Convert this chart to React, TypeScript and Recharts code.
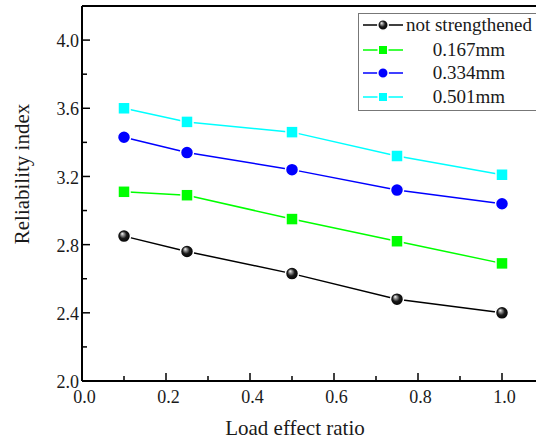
import React from 'react';
import { LineChart, Line, XAxis, YAxis, Legend, ReferenceLine } from 'recharts';

const loadRatio = [0.1, 0.25, 0.5, 0.75, 1.0];
const notStrengthened = [2.85, 2.76, 2.63, 2.48, 2.4];
const mm0167 = [3.11, 3.09, 2.95, 2.82, 2.69];
const mm0334 = [3.43, 3.34, 3.24, 3.12, 3.04];
const mm0501 = [3.6, 3.52, 3.46, 3.32, 3.21];

const seriesNames = ['not strengthened', '0.167mm', '0.334mm', '0.501mm'];
const seriesKeys = ['s0', 's1', 's2', 's3'];
const seriesColors = ['#000000', '#00ff00', '#0000ff', '#00ffff'];
const seriesShapes = ['sphere', 'square', 'circle', 'square'];

const xTicks = [0, 0.1, 0.2, 0.3, 0.4, 0.5, 0.6, 0.7, 0.8, 0.9, 1.0];
const yTicks = [2.0, 2.2, 2.4, 2.6, 2.8, 3.0, 3.2, 3.4, 3.6, 3.8, 4.0];

const xTitle = 'Load effect ratio';
const yTitle = 'Reliability index';

const data = loadRatio.map((x, i) => ({
  x,
  s0: notStrengthened[i],
  s1: mm0167[i],
  s2: mm0334[i],
  s3: mm0501[i],
}));

const FONT = '"Liberation Serif", "Times New Roman", serif';
const TEXT = '#1a1a1a';
const Y_MARGIN = 3;
const X_MARGIN = 9;

const tickStyle = { fontFamily: FONT, fontSize: 18 };
const titleStyle = { fontFamily: FONT, fontSize: 21 };

const YTick = (props: any) => {
  const { x, y, index, payload } = props;
  const axisX = x + Y_MARGIN;
  const major = index % 2 === 0;
  return (
    <g>
      <line x1={axisX} x2={axisX + (major ? 8 : 5)} y1={y} y2={y} stroke="#000" strokeWidth={1.5} />
      {major && (
        <text x={x} y={y} dy="0.4em" textAnchor="end" style={tickStyle} fill={TEXT}>
          {Number(payload.value).toFixed(1)}
        </text>
      )}
    </g>
  );
};

const XTick = (props: any) => {
  const { x, y, index, payload } = props;
  const axisY = y - X_MARGIN;
  const major = index % 2 === 0;
  return (
    <g>
      <line x1={x} x2={x} y1={axisY} y2={axisY - (major ? 8 : 5)} stroke="#000" strokeWidth={1.5} />
      {major && (
        <text x={x + 2.5} y={y} dy="0.71em" textAnchor="middle" style={tickStyle} fill={TEXT}>
          {Number(payload.value).toFixed(1)}
        </text>
      )}
    </g>
  );
};

const Marker = ({ shape, color, cx, cy, size }: any) => {
  if (shape === 'sphere') {
    return (
      <g>
        <defs>
          <radialGradient id="sphereGrad" cx="50%" cy="50%" r="50%" fx="35%" fy="30%">
            <stop offset="0%" stopColor="#ffffff" />
            <stop offset="22%" stopColor="#9a9a9a" />
            <stop offset="55%" stopColor="#1a1a1a" />
            <stop offset="100%" stopColor="#000000" />
          </radialGradient>
        </defs>
        <circle cx={cx} cy={cy} r={size / 2} fill="url(#sphereGrad)" stroke="#ffffff" strokeWidth={1.5} />
      </g>
    );
  }
  if (shape === 'circle') {
    return <circle cx={cx} cy={cy} r={size / 2} fill={color} stroke="#ffffff" strokeWidth={1.5} />;
  }
  const s = size - 1;
  return <rect x={cx - s / 2} y={cy - s / 2} width={s} height={s} fill={color} stroke="#ffffff" strokeWidth={1.5} />;
};

const makeDot = (i: number) => (p: any) => (
  <Marker key={`d${i}-${p.index}`} shape={seriesShapes[i]} color={seriesColors[i]} cx={p.cx} cy={p.cy} size={13} />
);

const LegendBox = () => {
  const rows = [12, 37, 60, 84];
  return (
    <svg width={200} height={98} style={{ display: 'block' }}>
      <rect x={0.5} y={0.5} width={199} height={97} fill="#fff" stroke="#777" strokeWidth={1} />
      {seriesNames.map((name, i) => (
        <g key={name}>
          <line x1={5} x2={45} y1={rows[i]} y2={rows[i]} stroke={seriesColors[i]} strokeWidth={1.5} />
          <Marker shape={seriesShapes[i]} color={seriesColors[i]} cx={25} cy={rows[i]} size={10.5} />
          <text x={111} y={rows[i]} dy="0.33em" textAnchor="middle" style={{ fontFamily: FONT, fontSize: 19 }} fill={TEXT}>
            {name}
          </text>
        </g>
      ))}
    </svg>
  );
};

export default function App() {
  return (
    <div style={{ position: 'absolute', left: 0, top: 0, width: 536, height: 441, overflow: 'hidden', background: '#fff' }}>
      <LineChart width={560} height={441} data={data} margin={{ top: 6, right: 16, bottom: 0, left: 0 }}>
        <XAxis
          dataKey="x"
          type="number"
          domain={[0, 1.1]}
          ticks={xTicks}
          interval={0}
          allowDataOverflow
          height={60}
          stroke="#000"
          axisLine={{ stroke: '#000', strokeWidth: 2 }}
          tickLine={false}
          tickSize={0}
          tickMargin={X_MARGIN}
          tick={<XTick />}
          label={() => (
            <text x={295} y={435} textAnchor="middle" style={titleStyle} fill={TEXT}>
              {xTitle}
            </text>
          )}
        />
        <YAxis
          type="number"
          domain={[2.0, 4.2]}
          ticks={yTicks}
          interval={0}
          allowDataOverflow
          width={82}
          axisLine={{ stroke: '#000', strokeWidth: 2 }}
          tickLine={false}
          tickSize={0}
          tickMargin={Y_MARGIN}
          tick={<YTick />}
          label={() => (
            <text x={29} y={174} transform="rotate(-90, 29, 174)" textAnchor="middle" style={titleStyle} fill={TEXT}>
              {yTitle}
            </text>
          )}
        />
        <ReferenceLine y={4.2} stroke="#000" strokeWidth={2} ifOverflow="visible" />
        {seriesKeys.map((k, i) => (
          <Line
            key={k}
            dataKey={k}
            name={seriesNames[i]}
            stroke={seriesColors[i]}
            strokeWidth={1.5}
            dot={makeDot(i)}
            activeDot={false}
            isAnimationActive={false}
          />
        ))}
        <Legend
          layout="vertical"
          align="center"
          verticalAlign="middle"
          wrapperStyle={{ position: 'absolute', left: 358, top: 13, width: 200, height: 98 }}
          content={() => <LegendBox />}
        />
      </LineChart>
    </div>
  );
}
